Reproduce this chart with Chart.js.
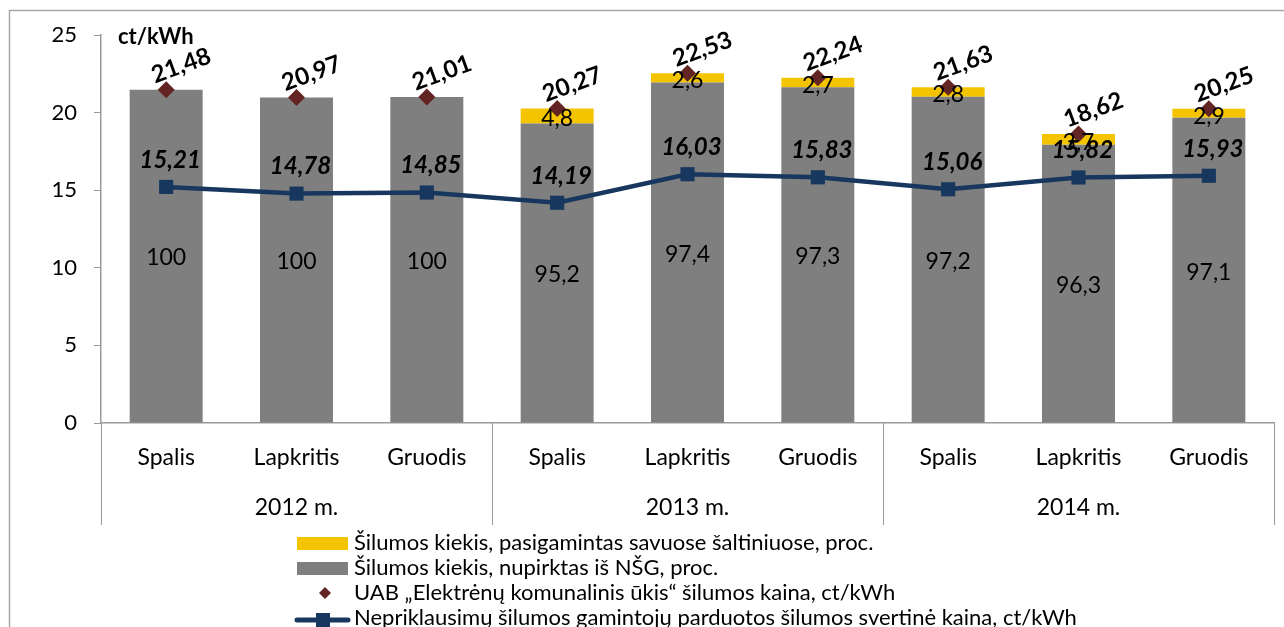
<!DOCTYPE html>
<html>
<head>
<meta charset="utf-8">
<script src="https://cdn.jsdelivr.net/npm/chart.js@4"></script>
<style>
  html, body { margin: 0; padding: 0; background: #fff; }
  canvas { display: block; }
</style>
</head>
<body>
<canvas id="c" width="1284" height="627"></canvas>
<script>
// ---- data ----
const months = ['Spalis', 'Lapkritis', 'Gruodis', 'Spalis', 'Lapkritis', 'Gruodis', 'Spalis', 'Lapkritis', 'Gruodis'];
const years = ['2012 m.', '2013 m.', '2014 m.'];
const ukPrice = [21.48, 20.97, 21.01, 20.27, 22.53, 22.24, 21.63, 18.62, 20.25];
const nsgShare = [100, 100, 100, 95.2, 97.4, 97.3, 97.2, 96.3, 97.1];
const ownShare = [null, null, null, 4.8, 2.6, 2.7, 2.8, 3.7, 2.9];
const indepPrice = [15.21, 14.78, 14.85, 14.19, 16.03, 15.83, 15.06, 15.82, 15.93];
const yMin = 0, yMax = 25, yStep = 5;
const unitLabel = 'ct/kWh';
const legendLabels = [
  'Šilumos kiekis, pasigamintas savuose šaltiniuose, proc.',
  'Šilumos kiekis, nupirktas iš NŠG, proc.',
  'UAB „Elektrėnų komunalinis ūkis“ šilumos kaina, ct/kWh',
  'Nepriklausimų šilumos gamintojų parduotos šilumos svertinė kaina, ct/kWh'
];

// bar heights: share of the price
const nsgBar = ukPrice.map((p, i) => p * nsgShare[i] / 100);
const ownBar = ukPrice.map((p, i) => ownShare[i] == null ? null : p * ownShare[i] / 100);

const FONT = 'Lato, "Open Sans", sans-serif';
const C_GRAY = '#7F7F7F', C_YEL = '#F5C400', C_DIA = '#632523', C_LINE = '#17375E', C_AXIS = '#9A9A9A';
const comma = s => String(s).replace('.', ',');

const decor = {
  id: 'decor',
  beforeDraw(chart) {
    const ctx = chart.ctx;
    ctx.save();
    ctx.fillStyle = '#fff';
    ctx.fillRect(0, 0, chart.width, chart.height);
    ctx.strokeStyle = '#A6A6A6';
    ctx.lineWidth = 1.5;
    ctx.strokeRect(9.5, 10.5, chart.width + 40, chart.height + 40);
    ctx.restore();
  },
  afterDatasetsDraw(chart) {
    const ctx = chart.ctx;
    ctx.save();
    ctx.fillStyle = '#000';
    ctx.textAlign = 'center';
    ctx.textBaseline = 'middle';
    // share labels in the bars
    const mG = chart.getDatasetMeta(0), mY = chart.getDatasetMeta(1);
    ctx.font = '23px ' + FONT;
    mG.data.forEach((el, i) => {
      ctx.fillText(comma(nsgShare[i]), el.x, (el.y + el.base) / 2 + 2);
    });
    mY.data.forEach((el, i) => {
      if (ownShare[i] == null) return;
      ctx.fillText(comma(ownShare[i]), el.x, (el.y + el.base) / 2 + 3);
    });
    // independent price labels
    const mL = chart.getDatasetMeta(2);
    ctx.font = 'italic bold 24px ' + FONT;
    mL.data.forEach((el, i) => {
      ctx.fillText(indepPrice[i].toFixed(2).replace('.', ','), el.x + 4, el.y - 27);
    });
    // company price labels (rotated)
    const mD = chart.getDatasetMeta(3);
    ctx.font = 'bold 24px ' + FONT;
    mD.data.forEach((el, i) => {
      ctx.save();
      ctx.translate(el.x + 15, el.y - 24);
      ctx.rotate(-20 * Math.PI / 180);
      ctx.fillText(ukPrice[i].toFixed(2).replace('.', ','), 0, 0);
      ctx.restore();
    });
    ctx.restore();
  },
  afterDraw(chart) {
    const ctx = chart.ctx;
    const xs = chart.scales.x;
    const area = chart.chartArea;
    const step = xs.getPixelForValue(1) - xs.getPixelForValue(0);
    ctx.save();
    // group separators
    ctx.strokeStyle = C_AXIS;
    ctx.lineWidth = 1;
    for (let g = 0; g <= years.length; g++) {
      const idx = g * 3;
      const x = Math.round(xs.getPixelForValue(Math.min(idx, months.length - 1)) + (idx >= months.length ? step / 2 : -step / 2)) + 0.5;
      ctx.beginPath();
      ctx.moveTo(x, area.bottom);
      ctx.lineTo(x, 525);
      ctx.stroke();
    }
    // year labels
    ctx.fillStyle = '#000';
    ctx.font = '23px ' + FONT;
    ctx.textAlign = 'center';
    ctx.textBaseline = 'middle';
    years.forEach((y, g) => {
      const x = xs.getPixelForValue(g * 3 + 1);
      ctx.fillText(y, x, 508);
    });
    // unit label
    ctx.font = 'bold 22px ' + FONT;
    ctx.textAlign = 'left';
    ctx.fillText(unitLabel, 118, 37);
    // legend
    ctx.font = '22px ' + FONT;
    const lx = 297, tx = 354;
    const rows = [543, 568, 593, 618];
    ctx.fillStyle = C_YEL;
    ctx.fillRect(lx, rows[0] - 6, 51, 13);
    ctx.fillStyle = C_GRAY;
    ctx.fillRect(lx, rows[1] - 6, 51, 13);
    ctx.fillStyle = C_DIA;
    ctx.beginPath();
    ctx.moveTo(325, rows[2] - 6); ctx.lineTo(331, rows[2]); ctx.lineTo(325, rows[2] + 6); ctx.lineTo(319, rows[2]);
    ctx.closePath(); ctx.fill();
    ctx.strokeStyle = C_LINE;
    ctx.lineWidth = 5;
    ctx.lineCap = 'round';
    ctx.beginPath();
    ctx.moveTo(297, rows[3] + 2); ctx.lineTo(348, rows[3] + 2); ctx.stroke();
    ctx.fillStyle = C_LINE;
    ctx.fillRect(316, rows[3] - 5, 14, 14);
    ctx.fillStyle = '#000';
    ctx.textBaseline = 'middle';
    legendLabels.forEach((t, i) => ctx.fillText(t, tx, rows[i]));
    ctx.restore();
  }
};

new Chart(document.getElementById('c'), {
  data: {
    labels: months,
    datasets: [
      { type: 'bar', data: nsgBar, backgroundColor: C_GRAY, stack: 'bars', order: 3,
        barPercentage: 0.56, categoryPercentage: 1 },
      { type: 'bar', data: ownBar, backgroundColor: C_YEL, stack: 'bars', order: 3,
        barPercentage: 0.56, categoryPercentage: 1 },
      { type: 'line', data: indepPrice, stack: 'indep', order: 2, borderColor: C_LINE, borderWidth: 4.5,
        pointStyle: 'rect', pointRadius: 10, pointBackgroundColor: C_LINE, pointBorderColor: C_LINE,
        pointBorderWidth: 0, tension: 0, fill: false },
      { type: 'line', data: ukPrice, stack: 'uk', order: 1, showLine: false,
        pointStyle: 'rectRot', pointRadius: 8.5, pointBackgroundColor: C_DIA, pointBorderColor: C_DIA,
        pointBorderWidth: 0 }
    ]
  },
  options: {
    responsive: false,
    devicePixelRatio: 1,
    animation: false,
    layout: { padding: { left: 0, right: 10, top: 35, bottom: 0 } },
    plugins: { legend: { display: false }, tooltip: { enabled: false } },
    scales: {
      x: {
        stacked: true,
        offset: true,
        grid: { display: true, drawOnChartArea: false, drawTicks: false, color: C_AXIS },
        border: { display: true, color: C_AXIS, width: 1.5 },
        ticks: { color: '#000', font: { family: FONT, size: 23 }, padding: 21, maxRotation: 0, autoSkip: false },
        afterFit(s) { s.height = 204; }
      },
      y: {
        stacked: true,
        min: yMin, max: yMax,
        grid: { display: true, drawOnChartArea: false, drawTicks: true, tickLength: 7, color: C_AXIS },
        border: { display: true, color: C_AXIS, width: 1.5 },
        ticks: { stepSize: yStep, color: '#000', font: { family: FONT, size: 22 }, padding: 17 },
        afterFit(s) { s.width = 101; }
      }
    }
  },
  plugins: [decor]
});
</script>
</body>
</html>
